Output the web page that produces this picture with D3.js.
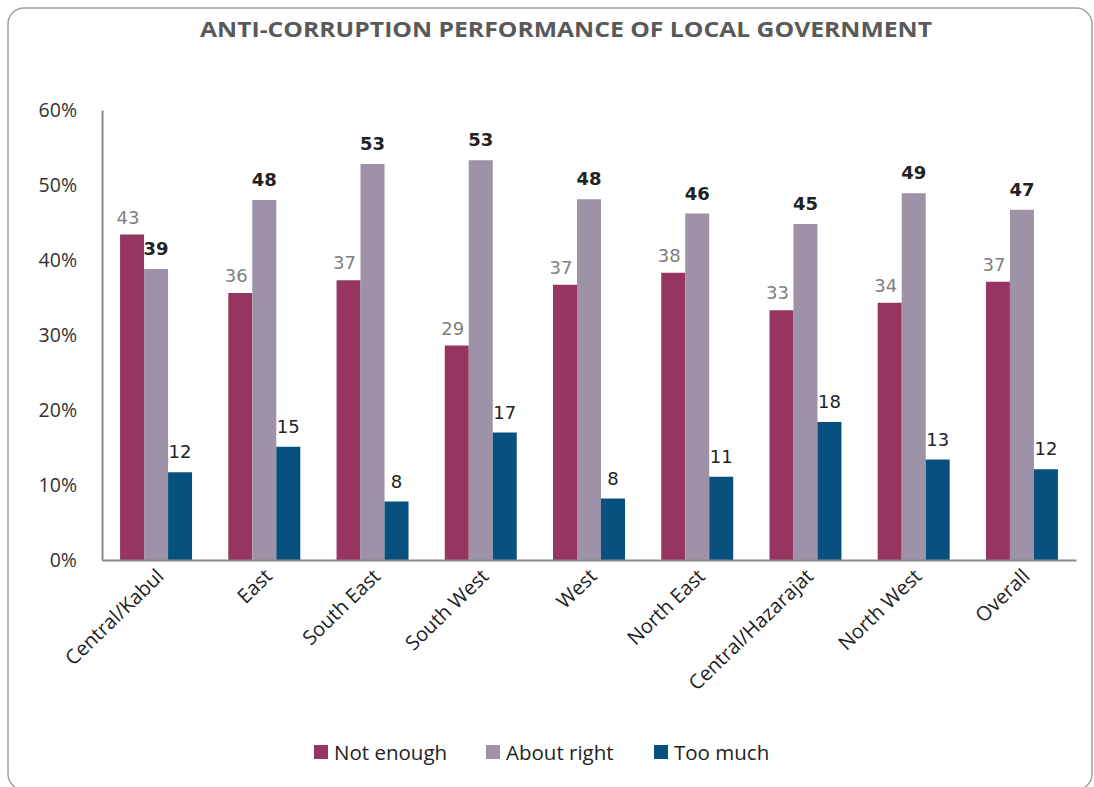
<!DOCTYPE html>
<html>
<head>
<meta charset="utf-8">
<script src="https://cdn.jsdelivr.net/npm/d3@7"></script>
<style>
  body { margin: 0; background: #fff; }
  text { font-family: "Open Sans", "DejaVu Sans", sans-serif; }
</style>
</head>
<body>
<script>
var svgWidth = 1094;
var svgHeight = 787;

// chart data
var regions = ["Central/Kabul", "East", "South East", "South West", "West", "North East", "Central/Hazarajat", "North West", "Overall"];
var seriesNames = ["Not enough", "About right", "Too much"];
var notEnough = [43.4, 35.6, 37.3, 28.6, 36.7, 38.3, 33.3, 34.3, 37.1];
var aboutRight = [38.8, 48.0, 52.8, 53.3, 48.1, 46.2, 44.8, 48.9, 46.7];
var tooMuch = [11.7, 15.1, 7.8, 17.0, 8.2, 11.1, 18.4, 13.4, 12.1];
var yTicks = [0, 10, 20, 30, 40, 50, 60];
var colors = ["#963560", "#9d92a8", "#08507e"];

var margin = { top: 110, right: 18, bottom: 227, left: 102 };
var width = svgWidth - margin.left - margin.right;
var height = svgHeight - margin.top - margin.bottom;

var svg = d3.select("body")
  .append("svg")
  .attr("width", svgWidth)
  .attr("height", svgHeight);

// rounded frame
svg.append("rect")
  .attr("x", 8).attr("y", 8)
  .attr("width", 1084).attr("height", 782)
  .attr("rx", 16).attr("ry", 16)
  .attr("fill", "none")
  .attr("stroke", "#a0a0a0")
  .attr("stroke-width", 1.5);

svg.append("text")
  .attr("x", 566).attr("y", 37)
  .attr("text-anchor", "middle")
  .attr("font-size", 22)
  .attr("font-weight", "bold")
  .attr("fill", "#595959")
  .attr("textLength", 732)
  .attr("lengthAdjust", "spacingAndGlyphs")
  .style("font-family", "'Liberation Sans Narrow', 'Open Sans', sans-serif")
  .text("ANTI-CORRUPTION PERFORMANCE OF LOCAL GOVERNMENT");

var chart = svg.append("g")
  .attr("transform", "translate(" + margin.left + "," + margin.top + ")");

var x0 = d3.scaleBand().domain(regions).range([0, width]).paddingInner(0.335).paddingOuter(0.167);
var x1 = d3.scaleBand().domain(seriesNames).range([0, x0.bandwidth()]);
var y = d3.scaleLinear().domain([0, 60]).range([height, 0]);

var table = regions.map(function(r, i) {
  return { region: r, values: [notEnough[i], aboutRight[i], tooMuch[i]] };
});

// y axis
var leftAxis = d3.axisLeft(y).tickValues(yTicks).tickSize(0).tickPadding(25)
  .tickFormat(function(d) { return d + "%"; });
var gy = chart.append("g").call(leftAxis);
gy.select(".domain").attr("stroke", "#8a8a8a").attr("stroke-width", 2);
gy.selectAll("text").attr("font-size", 19.5).attr("fill", "#333")
  .style("font-family", "'Open Sans', sans-serif");

// bars
var groups = chart.selectAll(".grp")
  .data(table)
  .enter().append("g")
  .attr("class", "grp")
  .attr("transform", function(d) { return "translate(" + x0(d.region) + ",0)"; });

groups.selectAll("rect")
  .data(function(d) { return d.values.map(function(v, k) { return { s: seriesNames[k], v: v, k: k }; }); })
  .enter().append("rect")
  .attr("x", function(d) { return x1(d.s); })
  .attr("y", function(d) { return y(d.v); })
  .attr("width", x1.bandwidth())
  .attr("height", function(d) { return height - y(d.v); })
  .attr("fill", function(d) { return colors[d.k]; });

groups.selectAll(".lbl")
  .data(function(d) { return d.values.map(function(v, k) { return { s: seriesNames[k], v: v, k: k }; }); })
  .enter().append("text")
  .attr("class", "lbl")
  .attr("x", function(d) { return x1(d.s) + x1.bandwidth() / 2 - (d.k === 0 ? 4 : 0); })
  .attr("y", function(d) { return y(d.v) - (d.k === 0 ? 11 : 14); })
  .attr("text-anchor", "middle")
  .attr("font-size", 18)
  .attr("font-weight", function(d) { return d.k === 1 ? "bold" : "normal"; })
  .attr("fill", function(d) { return d.k === 0 ? "#808080" : "#222"; })
  .style("font-family", "'DejaVu Sans', sans-serif")
  .text(function(d) { return Math.round(d.v); });

// x axis
var bottomAxis = d3.axisBottom(x0).tickSize(0).tickPadding(12);
var gx = chart.append("g")
  .attr("transform", "translate(0," + height + ")")
  .call(bottomAxis);
gx.select(".domain").attr("stroke", "#8a8a8a").attr("stroke-width", 2);
gx.selectAll("text")
  .attr("font-size", 20)
  .attr("fill", "#222")
  .attr("text-anchor", "end")
  .attr("dy", "0.35em")
  .attr("transform", "translate(-4,4) rotate(-44)")
  .style("font-family", "'Open Sans', sans-serif");

// legend
var legendX = [314, 486, 654];
var legend = svg.selectAll(".leg")
  .data(seriesNames)
  .enter().append("g")
  .attr("class", "leg")
  .attr("transform", function(d, i) { return "translate(" + legendX[i] + ",745)"; });
legend.append("rect").attr("width", 14).attr("height", 14)
  .attr("fill", function(d, i) { return colors[i]; });
legend.append("text").attr("x", 20).attr("y", 14.5)
  .attr("font-size", 20.5).attr("fill", "#222")
  .style("font-family", "'Open Sans', sans-serif")
  .text(function(d) { return d; });
</script>
</body>
</html>
